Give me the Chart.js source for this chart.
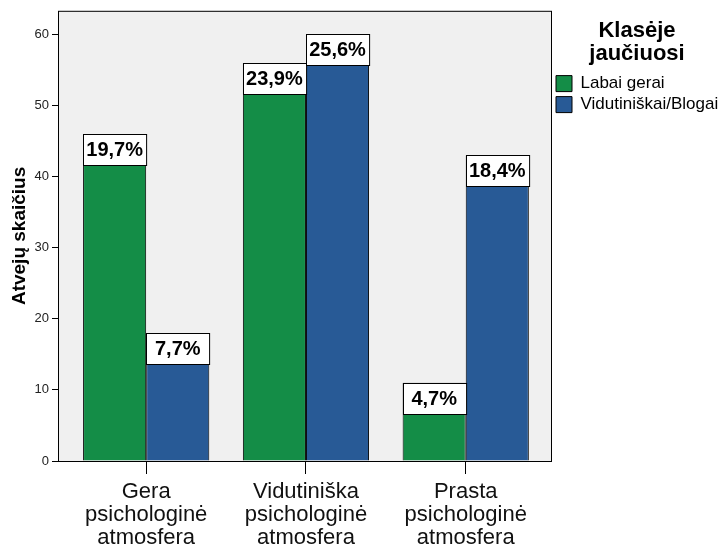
<!DOCTYPE html>
<html lang="lt">
  <head>
    <meta charset="UTF-8" />
    <title>Klasėje jaučiuosi</title>
    <script src="https://cdn.jsdelivr.net/npm/chart.js"></script>
    <style>
      body { margin: 0; background: #fff; }
      #wrap { width: 722px; height: 548px; }
    </style>
  </head>
  <body>
    <div id="wrap"><canvas id="barChart" width="722" height="548"></canvas></div>

    <script>
      // category labels (multi-line) and counts
      const categories = [
        ["Gera", "psichologinė", "atmosfera"],
        ["Vidutiniška", "psichologinė", "atmosfera"],
        ["Prasta", "psichologinė", "atmosfera"],
      ];
      const seriesNames = ["Labai gerai", "Vidutiniškai/Blogai"];
      const labaiGerai = [46, 56, 11];
      const vidutiniskai = [18, 60, 43];
      const labaiGeraiPct = ["19,7%", "23,9%", "4,7%"];
      const vidutiniskaiPct = ["7,7%", "25,6%", "18,4%"];
      const yTicks = [0, 10, 20, 30, 40, 50, 60];

      const FONT = "'Liberation Sans', Arial, sans-serif";

      const toPoints = (vals) => vals.map((v, i) => ({ x: i, y: v }));

      // grey plot box with black frame
      const frame = {
        id: "frame",
        beforeDatasetsDraw(chart) {
          const { ctx, chartArea: a } = chart;
          ctx.save();
          ctx.fillStyle = "#f0f0f0";
          ctx.fillRect(a.left, a.top, a.right - a.left, a.bottom - a.top);
          ctx.strokeStyle = "#000";
          ctx.lineWidth = 1;
          ctx.strokeRect(a.left + 0.5, a.top + 0.5, a.right - a.left - 1, a.bottom - a.top);
          ctx.restore();
        },
      };

      // white percent boxes at the top of each bar
      const pctBoxes = {
        id: "pctBoxes",
        afterDatasetsDraw(chart) {
          const ctx = chart.ctx;
          const pcts = [labaiGeraiPct, vidutiniskaiPct];
          ctx.save();
          chart.data.datasets.forEach((ds, di) => {
            chart.getDatasetMeta(di).data.forEach((bar, i) => {
              const w = bar.width;
              const left = Math.round(bar.x - w / 2) + 0.5;
              const top = Math.round(bar.y) + 0.5;
              ctx.fillStyle = "#fff";
              ctx.fillRect(left, top, w, 31);
              ctx.strokeStyle = "#000";
              ctx.lineWidth = 1;
              ctx.strokeRect(left, top, w, 31);
              ctx.fillStyle = "#000";
              ctx.font = "bold 20px " + FONT;
              ctx.textAlign = "center";
              ctx.textBaseline = "middle";
              ctx.fillText(pcts[di][i], bar.x, top + 16);
            });
          });
          ctx.restore();
        },
      };

      new Chart(document.getElementById("barChart"), {
        type: "bar",
        data: {
          datasets: [
            {
              label: seriesNames[0],
              data: toPoints(labaiGerai),
              backgroundColor: "#148d47",
              borderColor: "#000",
              borderWidth: 1,
            },
            {
              label: seriesNames[1],
              data: toPoints(vidutiniskai),
              backgroundColor: "#285a96",
              borderColor: "#000",
              borderWidth: 1,
            },
          ],
        },
        plugins: [frame, pctBoxes],
        options: {
          responsive: false,
          animation: false,
          categoryPercentage: 0.79,
          barPercentage: 1,
          layout: { padding: { top: 10, left: 0, right: 0, bottom: 0 } },
          plugins: {
            tooltip: { enabled: false },
            legend: {
              position: "right",
              align: "start",
              maxWidth: 170,
              title: {
                display: true,
                text: ["Klasėje", "jaučiuosi"],
                color: "#000",
                font: { family: FONT, size: 22, weight: "bold", lineHeight: 1.05 },
                padding: { top: 10, bottom: 28 },
              },
              labels: {
                boxWidth: 16,
                boxHeight: 16,
                padding: 4,
                color: "#000",
                font: { family: FONT, size: 17 },
              },
            },
          },
          scales: {
            x: {
              type: "linear",
              offset: false,
              min: -0.552,
              max: 2.54,
              afterBuildTicks: (s) => {
                s.ticks = categories.map((c, i) => ({ value: i }));
              },
              afterFit: (s) => {
                s.height = 87;
              },
              ticks: {
                autoSkip: false,
                maxRotation: 0,
                padding: 6,
                color: "#111",
                font: { family: FONT, size: 22, lineHeight: 1.05 },
                callback: (v) => categories[v] || "",
              },
              grid: { offset: false, drawOnChartArea: false, tickLength: 13, color: "#000" },
              border: { display: false },
            },
            y: {
              min: 0,
              max: 63.33,
              afterBuildTicks: (s) => {
                s.ticks = yTicks.map((v) => ({ value: v }));
              },
              afterFit: (s) => {
                s.width = 58;
              },
              ticks: {
                padding: 3,
                color: "#222",
                font: { family: FONT, size: 13 },
              },
              grid: { drawOnChartArea: false, tickLength: 6, color: "#000" },
              border: { display: false },
              title: {
                display: true,
                text: "Atvejų skaičius",
                color: "#000",
                font: { family: FONT, size: 19, weight: "bold" },
                padding: { top: 8, bottom: 0 },
              },
            },
          },
        },
      });
    </script>
  </body>
</html>
